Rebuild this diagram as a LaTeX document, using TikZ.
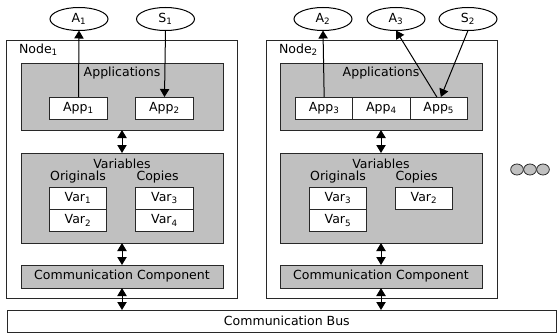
\documentclass[tikz,border=0pt]{standalone}
\usepackage{fontspec}
\setmainfont{DejaVu Sans}
\usetikzlibrary{arrows.meta,positioning,shapes.geometric}
\definecolor{boxgray}{RGB}{192,192,192}
\definecolor{linegray}{RGB}{40,40,40}

\begin{document}
\begin{tikzpicture}[x=0.75pt,y=0.75pt,yscale=-1,
  every node/.style={font=\fontsize{9.4}{11}\selectfont,inner sep=0pt,outer sep=0pt},
  frame/.style={draw=linegray,line width=0.75pt,fill=white,minimum width=173.25pt,minimum height=192.75pt},
  graybox/.style={draw=linegray,line width=0.75pt,fill=boxgray,minimum width=151.5pt},
  appbox/.style={draw=linegray,line width=0.75pt,fill=white,minimum width=43pt,minimum height=16.5pt},
  io/.style={draw,ellipse,line width=0.75pt,minimum width=43.5pt,minimum height=17.25pt},
  dotc/.style={draw=linegray,ellipse,fill=boxgray,line width=0.6pt,minimum width=9.5pt,minimum height=8.25pt},
  flow/.style={line width=0.75pt,-{Triangle[length=6pt,width=7pt]}},
  dbl/.style={line width=0.75pt,{Triangle[length=6pt,width=7pt]}-{Triangle[length=6pt,width=7pt]}}]
\useasboundingbox (0,0) rectangle (559,335);

%Communication bus
\node [frame,minimum width=411.75pt,minimum height=16.5pt] (bus) at (281.5,321) {\hspace{8pt}Communication Bus};

%Node 1
\node [frame] (node1) at (121.5,169.5) {};
\node [anchor=west] (lbl1) at (19,50) {Node\textsubscript{1}};
\node [graybox,minimum height=50.25pt] (apps1) at (122,96.5) {};
\node (apps1t) at (122,73) {Applications};
\node [appbox] (app1) at (78.5,108) {App\textsubscript{1}};
\node [appbox] (app2) at (164.5,108) {App\textsubscript{2}};
\node [graybox,minimum height=67.5pt] (vars1) at (122,198) {};
\node (vars1t) at (122,164) {Variables};
\node [appbox] (var1) at (78,198) {Var\textsubscript{1}};
\node [appbox] (var2) at (78,220.5) {Var\textsubscript{2}};
\node [appbox] (var3) at (164.5,198) {Var\textsubscript{3}};
\node [appbox] (var4) at (164.5,220.5) {Var\textsubscript{4}};
\node (orig1) at (78,177) {Originals};
\node [anchor=west] (copy1) at (136.5,177) {Copies};
\node [graybox,minimum height=17.25pt] (comm1) at (122,276.5) {Communication Component};

%Node 2
\node [frame] (node2) at (381.5,169.5) {};
\node [anchor=west] (lbl2) at (279,50) {Node\textsubscript{2}};
\node [graybox,minimum height=50.25pt] (apps2) at (381,96.5) {};
\node (apps2t) at (381,73) {Applications};
\node [appbox] (app4) at (381.5,108) {App\textsubscript{4}};
\node [appbox,anchor=east] (app3) at (app4.west) {App\textsubscript{3}};
\node [appbox,anchor=west] (app5) at (app4.east) {App\textsubscript{5}};
\node [graybox,minimum height=67.5pt] (vars2) at (381,198) {};
\node (vars2t) at (381,164) {Variables};
\node [appbox] (var23) at (338,198) {Var\textsubscript{3}};
\node [appbox] (var25) at (338,220.5) {Var\textsubscript{5}};
\node [appbox] (var22) at (424,198) {Var\textsubscript{2}};
\node (orig2) at (338,177) {Originals};
\node [anchor=west] (copy2) at (395.5,177) {Copies};
\node [graybox,minimum height=17.25pt] (comm2) at (381,276.5) {Communication Component};

%Actuators and sensors
\node [io] (a1) at (79,19) {A\textsubscript{1}};
\node [io] (s1) at (165.5,19) {S\textsubscript{1}};
\node [io] (a2) at (323,19) {A\textsubscript{2}};
\node [io] (a3) at (396,19) {A\textsubscript{3}};
\node [io] (s2) at (468,19) {S\textsubscript{2}};

%More nodes
\node [dotc] (d1) at (517,169.5) {};
\node [dotc] (d2) at (530,169.5) {};
\node [dotc] (d3) at (543,169.5) {};

%Arrows
\draw [flow] (app1.north) -- (a1.south);
\draw [flow] (s1.south) -- (app2.north);
\draw [flow] (app3.north) -- (a2.south);
\draw [flow] ([xshift=-1.5pt]app5.north) -- (a3.south);
\draw [flow] (s2.south) -- ([xshift=1.5pt]app5.north);

\draw [dbl] (apps1.south) -- (vars1.north);
\draw [dbl] (vars1.south) -- (comm1.north);
\draw [dbl] (comm1.south) -- (comm1.south |- bus.north);
\draw [dbl] (apps2.south) -- (vars2.north);
\draw [dbl] (vars2.south) -- (comm2.north);
\draw [dbl] (comm2.south) -- (comm2.south |- bus.north);

\end{tikzpicture}
\end{document}
